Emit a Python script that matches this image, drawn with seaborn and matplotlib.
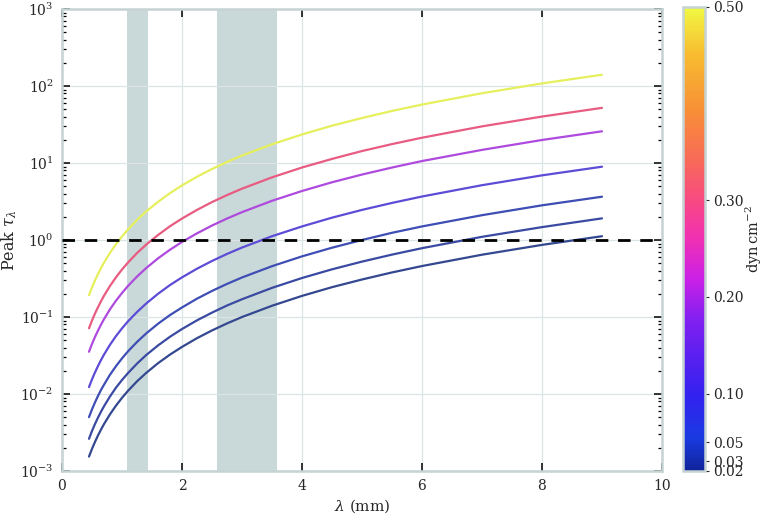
import numpy as np
import pandas as pd
import matplotlib
matplotlib.use("Agg")
import matplotlib.pyplot as plt
import matplotlib.colors as mcolors
import matplotlib.ticker as mticker
import seaborn as sns

# ---------------- data ----------------
wavelength_mm = [0.45, 0.5, 0.55, 0.6, 0.65, 0.7, 0.8, 0.9, 1.0, 1.1, 1.25, 1.4, 1.6, 1.8,
                 2.0, 2.25, 2.5, 2.75, 3.0, 3.5, 4.0, 4.5, 5.0, 5.5, 6.0, 7.0, 8.0, 9.0]

pressures = [0.5, 0.3, 0.2, 0.1, 0.05, 0.03, 0.02]  # dyn cm^-2

tau_p050 = [0.192, 0.242, 0.299, 0.362, 0.432, 0.508, 0.682, 0.883, 1.11, 1.37, 1.82, 2.34, 3.13, 4.06,
            5.12, 6.63, 8.36, 10.3, 12.5, 17.5, 23.5, 30.5, 38.4, 47.4, 57.4, 80.5, 108, 140]
tau_p030 = [0.0714, 0.0900, 0.111, 0.134, 0.160, 0.189, 0.253, 0.328, 0.414, 0.510, 0.676, 0.867, 1.16, 1.51,
            1.90, 2.46, 3.11, 3.83, 4.64, 6.51, 8.74, 11.3, 14.3, 17.6, 21.3, 29.9, 40.1, 52.0]
tau_p020 = [0.0354, 0.0447, 0.0551, 0.0667, 0.0796, 0.0937, 0.126, 0.163, 0.205, 0.253, 0.335, 0.430, 0.577, 0.748,
            0.943, 1.22, 1.54, 1.90, 2.30, 3.23, 4.33, 5.62, 7.08, 8.73, 10.6, 14.8, 19.9, 25.8]
tau_p010 = [0.0123, 0.0155, 0.0191, 0.0231, 0.0276, 0.0325, 0.0436, 0.0565, 0.0712, 0.0878, 0.116, 0.149, 0.200, 0.260,
            0.327, 0.424, 0.534, 0.659, 0.798, 1.12, 1.50, 1.95, 2.46, 3.03, 3.67, 5.15, 6.91, 8.95]
tau_p005 = [0.00501, 0.00632, 0.00779, 0.00944, 0.0113, 0.0132, 0.0178, 0.0230, 0.0290, 0.0358, 0.0474, 0.0609, 0.0817, 0.106,
            0.133, 0.173, 0.218, 0.269, 0.326, 0.457, 0.613, 0.794, 1.00, 1.24, 1.50, 2.10, 2.82, 3.65]
tau_p003 = [0.00262, 0.00331, 0.00408, 0.00494, 0.00589, 0.00693, 0.00930, 0.0121, 0.0152, 0.0187, 0.0248, 0.0319, 0.0427, 0.0554,
            0.0698, 0.0905, 0.114, 0.141, 0.170, 0.239, 0.321, 0.416, 0.524, 0.646, 0.783, 1.10, 1.47, 1.91]
tau_p002 = [0.00154, 0.00194, 0.00239, 0.00290, 0.00345, 0.00407, 0.00545, 0.00707, 0.00891, 0.0110, 0.0146, 0.0187, 0.0251, 0.0325,
            0.0409, 0.0531, 0.0669, 0.0825, 0.0999, 0.140, 0.188, 0.244, 0.307, 0.379, 0.459, 0.644, 0.864, 1.12]

tau_series = [tau_p050, tau_p030, tau_p020, tau_p010, tau_p005, tau_p003, tau_p002]

# shaded wavelength bands (mm)
band_lo = [1.09, 2.58]
band_hi = [1.43, 3.58]

colorbar_ticks = [0.02, 0.03, 0.05, 0.10, 0.20, 0.30, 0.50]

# ---------------- styles ----------------
line_colors = ["#e6ef5c", "#e85c82", "#ae4ade", "#5c4cd6", "#3e4eb4", "#3a4aa2", "#344890"]
cmap_colors = [(0.00, "#0f249a"), (0.07, "#1a3ae2"), (0.16, "#3222f0"), (0.25, "#5a20f0"),
               (0.33, "#8420f0"), (0.41, "#c820e8"), (0.50, "#f030b4"), (0.58, "#f84884"),
               (0.67, "#f86a58"), (0.78, "#f89036"), (0.90, "#f8bc30"), (1.00, "#f0f842")]
spine_color = "#c5d3d3"
band_color = "#c9d8d8"
grid_color = "#dbe4e6"

sns.set_theme(style="ticks")
plt.rcParams["font.family"] = ["DejaVu Serif"]
plt.rcParams["mathtext.fontset"] = "dejavuserif"

rows = []
for p, ser in zip(pressures, tau_series):
    for lam, t in zip(wavelength_mm, ser):
        rows.append({"wavelength": lam, "tau": t, "pressure": p})
df = pd.DataFrame(rows)
palette = dict(zip(pressures, line_colors))

fig = plt.figure(figsize=(7.63, 5.17), dpi=100)
ax = fig.add_axes([62 / 763, 1 - 471 / 517, 600 / 763, 462 / 517])

for lo, hi in zip(band_lo, band_hi):
    ax.axvspan(lo, hi, color=band_color, lw=0, zorder=0.5)

sns.lineplot(data=df, x="wavelength", y="tau", hue="pressure", palette=palette,
             hue_order=pressures, linewidth=1.6, legend=False, ax=ax, zorder=3)

ax.axhline(1.0, color="black", lw=2.0, dashes=(4.5, 3.5), zorder=4)

ax.set_yscale("log")
ax.set_xlim(0, 10)
ax.set_ylim(1e-3, 1e3)
ax.set_xticks([0, 2, 4, 6, 8, 10])
ax.yaxis.set_major_locator(mticker.LogLocator(base=10, numticks=10))
ax.yaxis.set_minor_locator(mticker.LogLocator(base=10, subs=np.arange(2, 10), numticks=20))
ax.yaxis.set_minor_formatter(mticker.NullFormatter())

ax.grid(True, which="major", color=grid_color, lw=0.9, zorder=0)
for s in ax.spines.values():
    s.set_color(spine_color)
    s.set_linewidth(1.8)
ax.tick_params(axis="both", which="major", direction="in", length=6, width=1.1,
               color="black", top=True, right=True, labelsize=10, pad=6)
ax.tick_params(axis="y", which="minor", direction="in", length=3, width=0.9,
               color="black", right=True)
ax.set_xlabel(r"$\lambda$ (mm)", fontsize=11, labelpad=3)
ax.set_ylabel(r"Peak $\tau_\lambda$", fontsize=11.5, labelpad=1)

# colorbar
cmap = mcolors.LinearSegmentedColormap.from_list("press", cmap_colors)
norm = mcolors.Normalize(vmin=min(colorbar_ticks), vmax=max(colorbar_ticks))
cax = fig.add_axes([683 / 763, 1 - 471 / 517, 22 / 763, 464 / 517])
sm = matplotlib.cm.ScalarMappable(norm=norm, cmap=cmap)
cb = fig.colorbar(sm, cax=cax, ticks=colorbar_ticks)
cb.ax.yaxis.set_major_formatter(mticker.FormatStrFormatter("%.2f"))
cb.outline.set_edgecolor(spine_color)
cb.outline.set_linewidth(1.8)
cb.ax.tick_params(length=3, width=0.8, labelsize=10, pad=3)
cb.set_label(r"$\mathrm{dyn\,cm^{-2}}$", fontsize=10.5, labelpad=0)

fig.savefig("out.png", dpi=100)
